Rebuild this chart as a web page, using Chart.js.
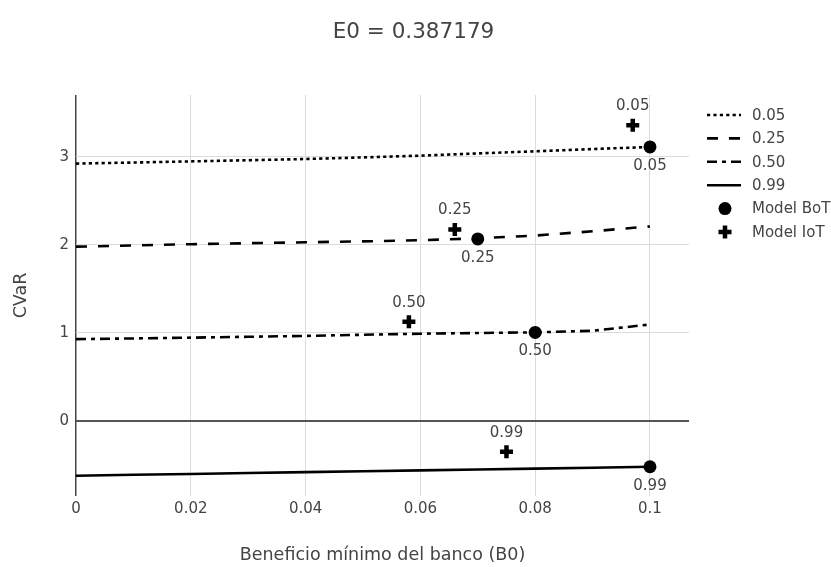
<!DOCTYPE html>
<html>
<head>
<meta charset="utf-8">
<script src="https://cdn.jsdelivr.net/npm/chart.js@4"></script>
<style>
  html, body { margin: 0; padding: 0; background: #fff; }
  #wrap { width: 831px; height: 567px; position: relative; }
</style>
</head>
<body>
<div id="wrap"><canvas id="c" width="831" height="567"></canvas></div>
<script>
// ---- data ----
const chartTitle = 'E0 = 0.387179';
const xTitle = 'Beneficio mínimo del banco (B0)';
const yTitle = 'CVaR';
const quantiles = ['0.05', '0.25', '0.50', '0.99'];
const lineX = [0, 0.01, 0.02, 0.03, 0.04, 0.05, 0.06, 0.07, 0.08, 0.09, 0.1];
const cvar005 = [2.925, 2.937, 2.950, 2.963, 2.977, 2.995, 3.015, 3.040, 3.065, 3.090, 3.114];
const cvar025 = [1.980, 1.994, 2.008, 2.019, 2.030, 2.040, 2.053, 2.075, 2.106, 2.155, 2.210];
const cvar050 = [0.928, 0.936, 0.945, 0.955, 0.965, 0.978, 0.990, 0.998, 1.005, 1.023, 1.095];
const cvar099 = [-0.625, -0.615, -0.605, -0.595, -0.585, -0.575, -0.565, -0.555, -0.545, -0.534, -0.523];
const botX = [0.1, 0.07, 0.08, 0.1];
const botY = [3.114, 2.068, 1.004, -0.523];
const iotX = [0.097, 0.066, 0.058, 0.075];
const iotY = [3.36, 2.175, 1.125, -0.352];
const xTicks = [0, 0.02, 0.04, 0.06, 0.08, 0.1];
const xTickLabels = ['0', '0.02', '0.04', '0.06', '0.08', '0.1'];
const yTicks = [0, 1, 2, 3];
const yTickLabels = ['0', '1', '2', '3'];
const markerNames = ['Model BoT', 'Model IoT'];

// ---- styles ----
const FONT = "'DejaVu Sans', Verdana, sans-serif";
const TXT = '#444';
const SMALL = 15;
const dashes = [[3.2, 3.2], [11, 11], [10, 5, 4, 5], []];
const LW = 2.6;

const series = [cvar005, cvar025, cvar050, cvar099];
const lineDatasets = series.map((ys, i) => ({
  label: quantiles[i],
  data: lineX.map((x, j) => ({ x: x, y: ys[j] })),
  showLine: true,
  borderColor: '#000',
  backgroundColor: '#000',
  borderWidth: LW,
  borderDash: dashes[i],
  pointRadius: 0,
  pointHoverRadius: 0,
  tension: 0,
  order: 2
}));
const botDataset = {
  label: markerNames[0],
  data: botX.map((x, i) => ({ x: x, y: botY[i] })),
  showLine: false,
  pointStyle: 'circle',
  pointRadius: 6.5,
  pointBackgroundColor: '#000',
  pointBorderColor: '#000',
  pointBorderWidth: 0,
  labelPos: 'below',
  order: 1
};
const iotDataset = {
  label: markerNames[1],
  data: iotX.map((x, i) => ({ x: x, y: iotY[i] })),
  showLine: false,
  pointStyle: 'cross',
  pointRadius: 6.5,
  pointBackgroundColor: '#000',
  pointBorderColor: '#000',
  pointBorderWidth: 4.5,
  labelPos: 'above',
  order: 1
};

const decorPlugin = {
  id: 'decor',
  afterDatasetsDraw(chart) {
    const ctx = chart.ctx;
    ctx.save();
    // point labels
    ctx.font = SMALL + 'px ' + FONT;
    ctx.fillStyle = TXT;
    ctx.textAlign = 'center';
    ctx.textBaseline = 'middle';
    chart.data.datasets.forEach((ds, di) => {
      if (!ds.labelPos) return;
      const meta = chart.getDatasetMeta(di);
      meta.data.forEach((pt, i) => {
        const dy = ds.labelPos === 'above' ? -19 : 19;
        ctx.fillText(quantiles[i], pt.x, pt.y + dy);
      });
    });
    // title
    ctx.font = '21.5px ' + FONT;
    ctx.fillText(chartTitle, 413.5, 32);
    // legend
    const lx0 = 707, lx1 = 741, tx = 752, y0 = 115, dyRow = 23.4;
    ctx.font = SMALL + 'px ' + FONT;
    ctx.textAlign = 'left';
    quantiles.forEach((q, i) => {
      const y = y0 + i * dyRow;
      ctx.strokeStyle = '#000';
      ctx.lineWidth = LW;
      ctx.setLineDash(dashes[i]);
      ctx.beginPath();
      ctx.moveTo(lx0, y);
      ctx.lineTo(lx1, y);
      ctx.stroke();
      ctx.setLineDash([]);
      ctx.fillStyle = TXT;
      ctx.fillText(q, tx, y + 1);
    });
    const mx = 725;
    let y = y0 + 4 * dyRow;
    ctx.fillStyle = '#000';
    ctx.beginPath();
    ctx.arc(mx, y, 6.5, 0, Math.PI * 2);
    ctx.fill();
    ctx.fillStyle = TXT;
    ctx.fillText(markerNames[0], tx, y + 1);
    y = y0 + 5 * dyRow;
    ctx.strokeStyle = '#000';
    ctx.lineWidth = 4.5;
    ctx.beginPath();
    ctx.moveTo(mx - 6.5, y); ctx.lineTo(mx + 6.5, y);
    ctx.moveTo(mx, y - 6.5); ctx.lineTo(mx, y + 6.5);
    ctx.stroke();
    ctx.fillStyle = TXT;
    ctx.fillText(markerNames[1], tx, y + 1);
    ctx.restore();
  }
};

new Chart(document.getElementById('c'), {
  type: 'scatter',
  data: { datasets: [...lineDatasets, botDataset, iotDataset] },
  options: {
    responsive: false,
    animation: false,
    events: [],
    layout: { padding: { left: 0, right: 142, top: 95, bottom: 0 } },
    plugins: { legend: { display: false }, tooltip: { enabled: false }, title: { display: false } },
    scales: {
      x: {
        type: 'linear',
        min: 0,
        max: 0.1068,
        afterBuildTicks: (s) => { s.ticks = xTicks.map(v => ({ value: v })); },
        afterFit: (s) => { s.height = 71; },
        ticks: {
          autoSkip: false,
          maxRotation: 0,
          padding: 4,
          color: TXT,
          font: { family: FONT, size: SMALL },
          callback: (v) => { const k = xTicks.indexOf(v); return k >= 0 ? xTickLabels[k] : ''; }
        },
        grid: {
          drawTicks: false,
          color: (c) => (c.tick && c.tick.value === 0) ? '#444' : '#dcdcdc',
          lineWidth: (c) => (c.tick && c.tick.value === 0) ? 1.5 : 1
        },
        border: { display: false },
        title: {
          display: true, text: xTitle, color: TXT,
          font: { family: FONT, size: 17.5 },
          padding: { top: 0, bottom: 1 }
        }
      },
      y: {
        type: 'linear',
        min: -0.856,
        max: 3.705,
        afterBuildTicks: (s) => { s.ticks = yTicks.map(v => ({ value: v })); },
        afterFit: (s) => { s.width = 76; },
        ticks: {
          autoSkip: false,
          padding: 7,
          color: TXT,
          font: { family: FONT, size: SMALL },
          callback: (v) => { const k = yTicks.indexOf(v); return k >= 0 ? yTickLabels[k] : ''; }
        },
        grid: {
          drawTicks: false,
          color: (c) => (c.tick && c.tick.value === 0) ? '#555' : '#dcdcdc',
          lineWidth: (c) => (c.tick && c.tick.value === 0) ? 2 : 1
        },
        border: { display: false },
        title: {
          display: true, text: yTitle, color: TXT,
          font: { family: FONT, size: 17.5 },
          padding: { top: 11, bottom: 0 }
        }
      }
    }
  },
  plugins: [decorPlugin]
});
</script>
</body>
</html>
